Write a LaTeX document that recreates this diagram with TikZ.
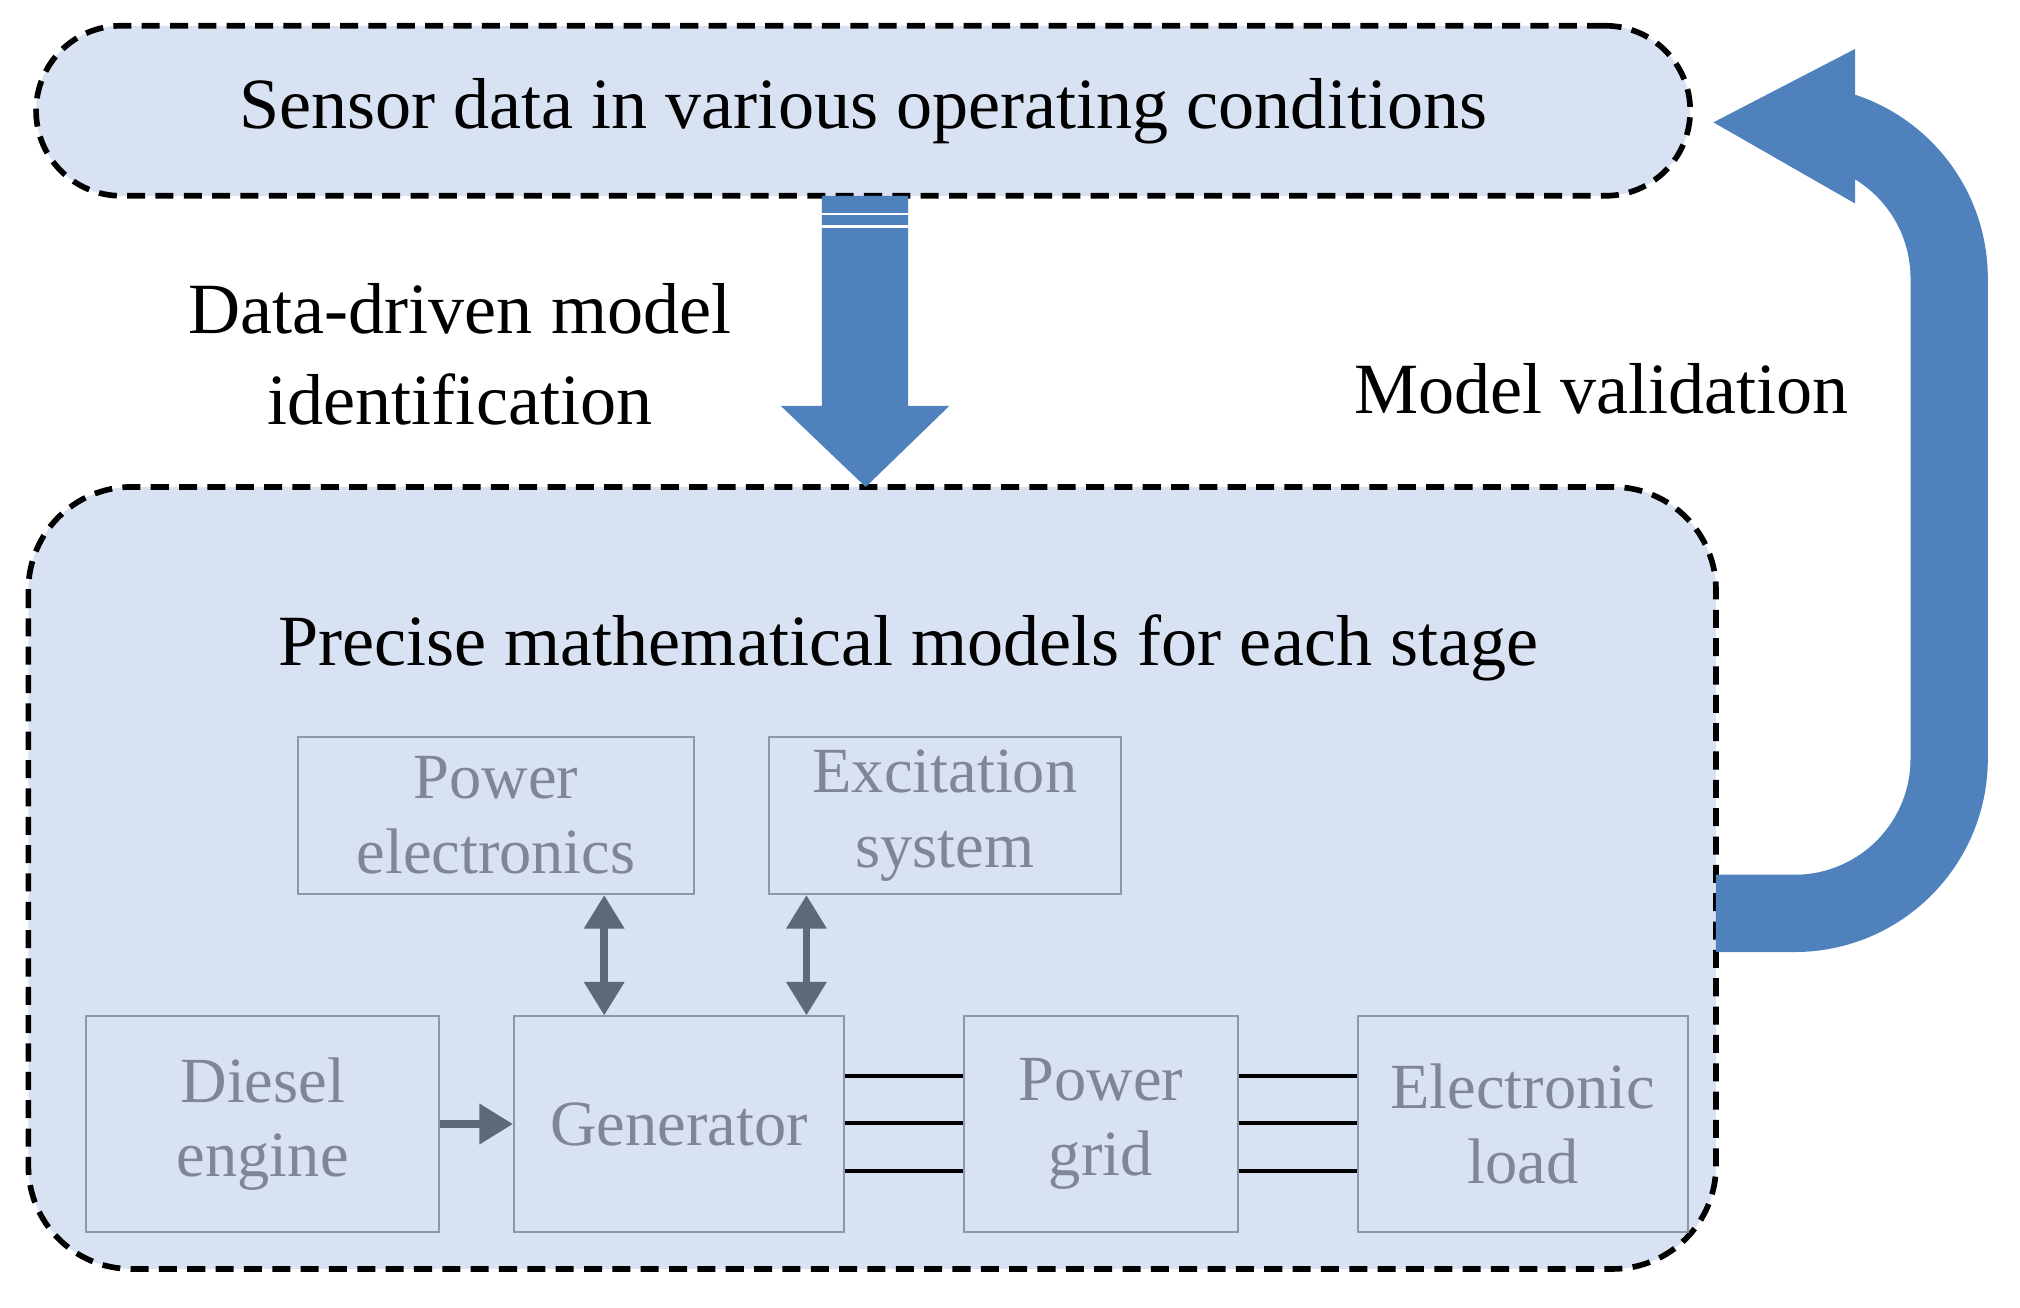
\documentclass[tikz,border=0pt]{standalone}
\usepackage{fontspec}
\setmainfont{Liberation Serif}
\begin{document}
\begin{tikzpicture}[x=0.5pt,y=-0.5pt,
  dbox/.style={draw=black,line width=2.2pt,dash pattern=on 7pt off 4pt,fill=lb},
  gbox/.style={draw=gb,line width=0.8pt,fill=lb,text=gt,align=center,font=\fontsize{25}{29}\selectfont,inner sep=0},
  big/.style={font=\fontsize{28}{35}\selectfont,align=center},
  garr/.style={draw=ga,line width=3pt,-{Triangle[length=13pt,width=15pt]}},
  garr2/.style={draw=ga,line width=3pt,{Triangle[length=13pt,width=15pt]}-{Triangle[length=13pt,width=15pt]}}]
\usetikzlibrary{arrows.meta}
\definecolor{lb}{HTML}{D9E2F2}
\definecolor{bl}{HTML}{4F81BD}
\definecolor{gb}{HTML}{8C97AA}
\definecolor{gt}{HTML}{7F8694}
\definecolor{ga}{HTML}{5E6878}
\useasboundingbox (0,0) rectangle (1568,1015);
% top box
\node[dbox,rounded corners=33pt,minimum width=642pt,minimum height=66pt,big] (top) at (670,86) {Sensor data in various operating conditions};
% bottom box
\draw[dbox,rounded corners=40pt] (22,378) rectangle (1332,985);
\node[big] (prec) at (705,503) {Precise mathematical models for each stage};
% down arrow
\fill[bl] (638,152) -- (705,152) -- (705,315) -- (737,315) -- (672,378) -- (606,315) -- (638,315) -- cycle;
\draw[white,line width=1pt] (638,166) -- (705,166) (638,176) -- (705,176);
\node[big] (dd) at (357,275) {Data-driven model\\identification};
% return arrow
\draw[bl,line width=30pt,rounded corners=60pt] (1332,709) -- (1513,709) -- (1513,96) -- (1438,96);
\fill[bl] (1440,38) -- (1440,158) -- (1330,95) -- cycle;
\node[big,anchor=west] (mv) at (1044,302) {Model validation};
% inner boxes
\node[gbox,minimum width=154pt,minimum height=61pt] (pe) at (385,633) {Power\\electronics};
\node[gbox,minimum width=136.5pt,minimum height=61pt] (ex) at (733.5,633) {Excitation\\system};
\node[gbox,minimum width=137pt,minimum height=83.5pt] (de) at (204,872.5) {Diesel\\engine};
\node[gbox,minimum width=128pt,minimum height=83.5pt] (ge) at (527,872.5) {Generator};
\node[gbox,minimum width=106.5pt,minimum height=83.5pt] (pg) at (854.5,872.5) {Power\\grid};
\node[gbox,minimum width=128pt,minimum height=83.5pt] (el) at (1182,872.5) {Electronic\\load};
\draw[garr] (de.east) -- (ge.west);
\draw[garr2] (ge.north -| 469,0) -- (pe.south -| 469,0);
\draw[garr2] (ge.north -| 626,0) -- (ex.south -| 626,0);
\foreach \y in {835,872,909}{
  \draw[black,line width=1.6pt] (ge.east |- 0,\y) -- (pg.west |- 0,\y);
  \draw[black,line width=1.6pt] (pg.east |- 0,\y) -- (el.west |- 0,\y);
}
\end{tikzpicture}
\end{document}
